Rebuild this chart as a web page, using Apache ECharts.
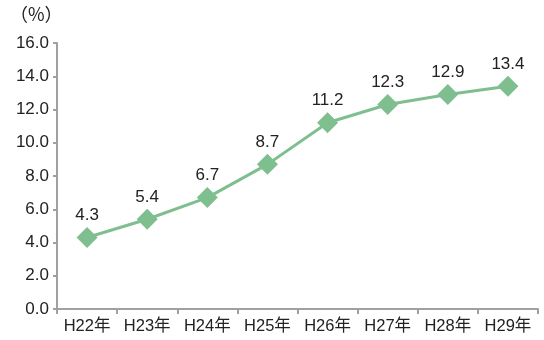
<!DOCTYPE html>
<html><head><meta charset="utf-8">
<script src="https://cdn.jsdelivr.net/npm/echarts@6/dist/echarts.min.js"></script>
<style>html,body{margin:0;padding:0;background:#fff}#c{width:544px;height:340px}</style>
</head><body><div id="c"></div>
<script>
const categories = ['H22年','H23年','H24年','H25年','H26年','H27年','H28年','H29年'];
const values = [4.3, 5.4, 6.7, 8.7, 11.2, 12.3, 12.9, 13.4];
const yTicks = {min: 0, max: 16, interval: 2};
const font = '"Liberation Sans", "Noto Sans CJK JP", sans-serif';
const chart = echarts.init(document.getElementById('c'));
chart.setOption({
  animation: false,
  grid: {left: 57, right: 6, top: 43, bottom: 31},
  graphic: [{type: 'text', left: 10, top: 5, style: {text: '（%）', font: '18px "Noto Sans CJK JP", sans-serif', fill: '#222'}}],
  xAxis: {
    type: 'category', data: categories, boundaryGap: true,
    axisLine: {lineStyle: {color: '#a0a0a0', width: 2}},
    axisTick: {show: true, length: 5, lineStyle: {color: '#a0a0a0', width: 2}},
    axisLabel: {interval: 0, color: '#222', fontSize: 16.5, fontFamily: font, margin: 9}
  },
  yAxis: {
    type: 'value', min: yTicks.min, max: yTicks.max, interval: yTicks.interval,
    axisLine: {show: true, lineStyle: {color: '#a0a0a0', width: 2}},
    axisTick: {show: true, length: 4, lineStyle: {color: '#a0a0a0', width: 2}},
    splitLine: {show: false},
    axisLabel: {color: '#222', fontSize: 17, fontFamily: font, margin: 8, formatter: v => v.toFixed(1)}
  },
  series: [{
    type: 'line', data: values,
    symbol: 'diamond', symbolSize: 21,
    lineStyle: {color: '#7fbf8f', width: 3},
    itemStyle: {color: '#7fbf8f'},
    label: {show: true, position: 'top', distance: 3, color: '#222', fontSize: 17, fontFamily: font, formatter: p => p.value.toFixed(1)}
  }]
});
</script></body></html>
